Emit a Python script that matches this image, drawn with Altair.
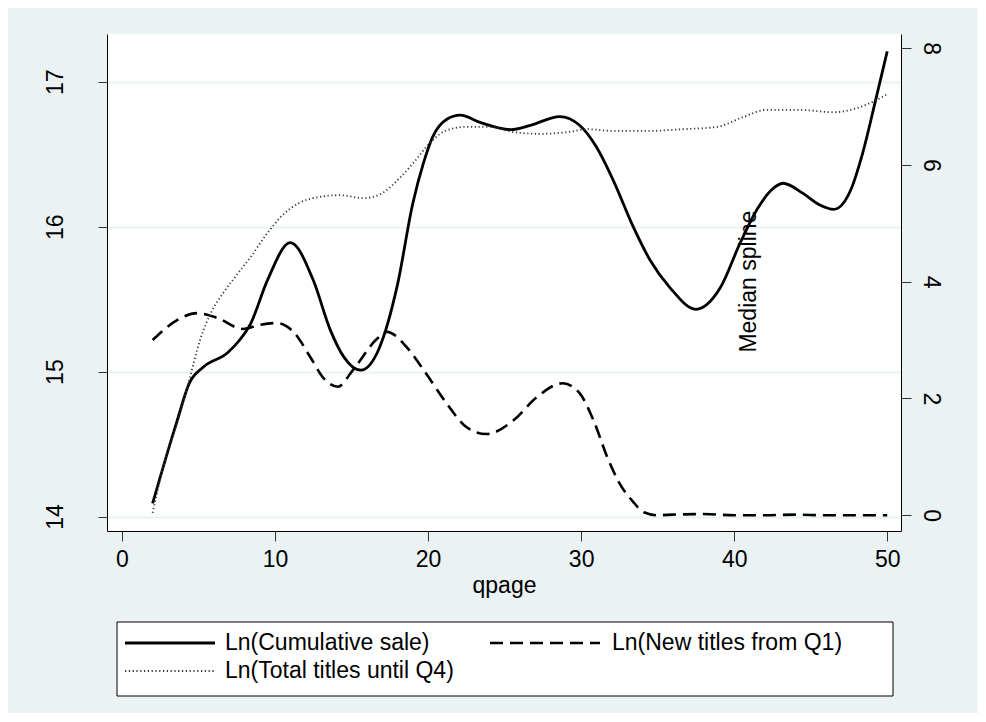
import altair as alt
import pandas as pd

series_names = ["Ln(Cumulative sale)", "Ln(New titles from Q1)", "Ln(Total titles until Q4)"]

# Ln(Cumulative sale)  (left axis)
sale_x = [2, 3.6, 4.4, 5.3, 6.9, 7.7, 8.4, 9.5, 11.0, 12.5, 13.6, 14.5, 15.6, 16.8, 18.0,
          19.0, 19.7, 20.3, 21.2, 22.1, 23.4, 25.4, 26.7, 28.6, 29.9, 31.0, 32.1, 33.4,
          34.5, 35.8, 37.5, 39.1, 40.4, 41.5, 42.4, 43.2, 44.5, 45.6, 46.5, 47.6, 48.4,
          49.3, 50]
sale_y = [14.09, 14.66, 14.92, 15.03, 15.13, 15.22, 15.33, 15.63, 15.89, 15.63, 15.29,
          15.10, 15.01, 15.16, 15.60, 16.16, 16.44, 16.62, 16.74, 16.77, 16.72, 16.67,
          16.70, 16.76, 16.70, 16.55, 16.32, 16.00, 15.77, 15.58, 15.43, 15.58, 15.89,
          16.12, 16.25, 16.30, 16.23, 16.15, 16.12, 16.25, 16.51, 16.90, 17.21]

# Ln(New titles from Q1)  (right axis)
new_x = [2, 3.6, 4.9, 6.2, 7.9, 9.0, 10.1, 11.2, 12.3, 13.1, 14.1, 15.1, 16.7, 17.3, 18.6,
         19.7, 21.2, 22.5, 23.8, 25.6, 27.1, 28.8, 29.9, 30.8, 31.7, 32.5, 33.4, 34.1,
         35, 36, 38, 40, 42, 44, 46, 48, 50]
new_y = [3.0, 3.34, 3.46, 3.38, 3.19, 3.26, 3.29, 3.14, 2.71, 2.37, 2.20, 2.49, 3.03, 3.14,
         2.88, 2.49, 1.92, 1.51, 1.39, 1.63, 2.02, 2.26, 2.09, 1.63, 1.00, 0.55, 0.23, 0.05,
         0.0, 0.01, 0.02, 0.0, 0.0, 0.01, 0.0, 0.0, 0.0]

# Ln(Total titles until Q4)  (right axis)
tot_x = [2, 2.7, 3.6, 4.4, 5.1, 5.8, 6.6, 7.3, 8.4, 9.5, 10.5, 11.6, 12.9, 14.2, 15.8, 16.9,
         18.2, 19.0, 20.1, 21.2, 22.5, 24.1, 25.6, 27.3, 29.1, 30.4, 32.1, 34.3, 36.7, 38.9,
         40.6, 42.1, 44.3, 46.5, 48.0, 49.3, 50]
tot_y = [0.04, 0.83, 1.58, 2.32, 3.0, 3.46, 3.80, 4.05, 4.42, 4.83, 5.14, 5.35, 5.45, 5.48,
         5.43, 5.50, 5.79, 6.02, 6.37, 6.59, 6.65, 6.65, 6.56, 6.53, 6.56, 6.61, 6.58, 6.58,
         6.61, 6.65, 6.82, 6.94, 6.94, 6.90, 6.97, 7.11, 7.21]

note_text = ["Median spline"]
note_x = [41]
note_y = [4.0]

x_ticks = [0, 10, 20, 30, 40, 50]
left_ticks = [14, 15, 16, 17]
right_ticks = [0, 2, 4, 6, 8]

df_sale = pd.DataFrame({"x": sale_x, "y": sale_y, "series": series_names[0]})
df_new = pd.DataFrame({"x": new_x, "y": new_y, "series": series_names[1]})
df_tot = pd.DataFrame({"x": tot_x, "y": tot_y, "series": series_names[2]})
df_note = pd.DataFrame({"x": note_x, "y": note_y, "label": note_text})

FONT = "Liberation Sans"
BG = "#EAF2F3"
SOLID = dict(strokeWidth=2.8, color="black")
DASHED = dict(strokeWidth=2.6, color="black", strokeDash=[13, 7])
DOTTED = dict(strokeWidth=1.8, color="#333333", strokeDash=[1.2, 2.6])

x_scale = alt.Scale(domain=[-0.98, 50.9], nice=False, zero=False)
x_axis = alt.Axis(values=x_ticks, title="qpage", grid=False, tickSize=10, labelPadding=7,
                  titlePadding=3, format="d")
x_enc = alt.X("x:Q", scale=x_scale, axis=x_axis)

left_scale = alt.Scale(domain=[13.9, 17.33], nice=False, zero=False)
right_scale = alt.Scale(domain=[-0.27, 8.24], nice=False, zero=False)

left = alt.Chart(df_sale).mark_line(interpolate="monotone", **SOLID).encode(
    x=x_enc,
    y=alt.Y("y:Q", scale=left_scale,
            axis=alt.Axis(orient="left", values=left_ticks, title=None, grid=True,
                          gridColor=BG, gridWidth=2, tickSize=9, labelAngle=270,
                          labelAlign="center", labelBaseline="middle", labelPadding=43)),
    order="x:Q",
)

new_line = alt.Chart(df_new).mark_line(interpolate="monotone", **DASHED).encode(
    x=x_enc,
    y=alt.Y("y:Q", scale=right_scale,
            axis=alt.Axis(orient="right", values=right_ticks, title=None, grid=False,
                          tickSize=10, labelAngle=90, labelAlign="center",
                          labelBaseline="middle", labelPadding=19)),
    order="x:Q",
)

tot_line = alt.Chart(df_tot).mark_line(interpolate="monotone", **DOTTED).encode(
    x=x_enc,
    y=alt.Y("y:Q", scale=right_scale, axis=None),
    order="x:Q",
)

note = alt.Chart(df_note).mark_text(angle=270, font=FONT, fontSize=23, color="black",
                                    align="center", baseline="middle").encode(
    x=x_enc,
    y=alt.Y("y:Q", scale=right_scale, axis=None),
    text="label:N",
)

# ---- legend (drawn below the plot area, Stata style) ----
LEG_FS = 23
leg_box = alt.Chart().mark_rect(fill="white", stroke="black", strokeWidth=1).encode(
    x=alt.value(10), x2=alt.value(786), y=alt.value(588), y2=alt.value(662))
leg_s1 = alt.Chart().mark_rule(**SOLID).encode(
    x=alt.value(18), x2=alt.value(108), y=alt.value(609))
leg_t1 = alt.Chart().mark_text(align="left", baseline="middle", font=FONT,
                               fontSize=LEG_FS, color="black").encode(
    x=alt.value(118), y=alt.value(609), text=alt.value(series_names[0]))
leg_s2 = alt.Chart().mark_rule(**DASHED).encode(
    x=alt.value(383), x2=alt.value(493), y=alt.value(609))
leg_t2 = alt.Chart().mark_text(align="left", baseline="middle", font=FONT,
                               fontSize=LEG_FS, color="black").encode(
    x=alt.value(505), y=alt.value(609), text=alt.value(series_names[1]))
leg_s3 = alt.Chart().mark_rule(**DOTTED).encode(
    x=alt.value(18), x2=alt.value(108), y=alt.value(637))
leg_t3 = alt.Chart().mark_text(align="left", baseline="middle", font=FONT,
                               fontSize=LEG_FS, color="black").encode(
    x=alt.value(118), y=alt.value(637), text=alt.value(series_names[2]))

chart = alt.layer(
    left, new_line, tot_line, note,
    leg_box, leg_s1, leg_t1, leg_s2, leg_t2, leg_s3, leg_t3,
).resolve_scale(y="independent").properties(
    width=794, height=497, background=BG,
    autosize=alt.AutoSizeParams(type="none"),
    padding={"left": 99, "top": 26, "right": 77, "bottom": 182},
).configure_view(fill="white", stroke=None).configure_axis(
    domainColor="black", domainWidth=1, tickColor="#333333", tickWidth=1,
    labelFont=FONT, labelFontSize=23, labelColor="black",
    titleFont=FONT, titleFontSize=23, titleFontWeight="normal", titleColor="black",
)

chart.save("out.html", embed_options={"renderer": "svg", "actions": False})
